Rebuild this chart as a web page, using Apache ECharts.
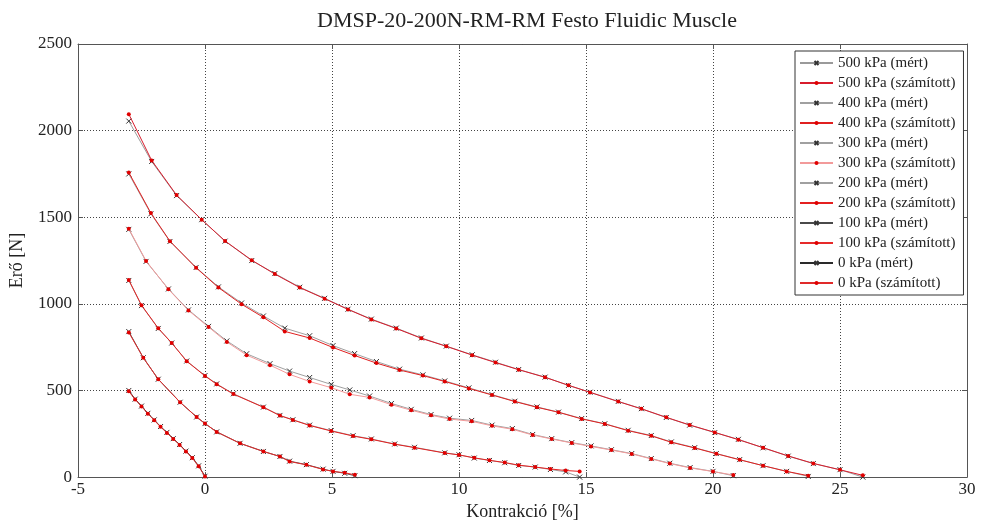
<!DOCTYPE html>
<html>
<head>
<meta charset="utf-8">
<script src="https://cdn.jsdelivr.net/npm/echarts@6/dist/echarts.min.js"></script>
<style>html,body{margin:0;padding:0;background:#fff}#c{width:983px;height:526px}</style>
</head>
<body>
<div id="c"></div>
<script>
// ---- data ----
const titleText = 'DMSP-20-200N-RM-RM Festo Fluidic Muscle';
const xTicks = [-5, 0, 5, 10, 15, 20, 25, 30];
const yTicks = [0, 500, 1000, 1500, 2000, 2500];

const x500 = [-3, -2.1, -1.12, -0.13, 0.79, 1.84, 2.75, 3.73, 4.71, 5.63, 6.55, 7.53, 8.52, 9.5, 10.52, 11.44, 12.35, 13.39, 14.31, 15.16, 16.27, 17.18, 18.16, 19.08, 20.07, 21, 21.97, 22.96, 23.95, 25, 25.9];
const f500m = [2055, 1822, 1625, 1486, 1362, 1250, 1175, 1096, 1032, 969, 912, 860, 803, 756, 706, 663, 621, 577, 529, 490, 437, 395, 344, 300, 257, 218, 169, 121, 78, 43, 0];
const f500c = [2095, 1828, 1628, 1486, 1363, 1252, 1172, 1094, 1030, 968, 910, 858, 801, 755, 704, 661, 620, 576, 530, 489, 436, 394, 345, 301, 258, 216, 170, 122, 79, 42, 10];

const x400 = [-3, -2.13, -1.38, -0.35, 0.53, 1.44, 2.3, 3.14, 4.12, 5.04, 5.89, 6.75, 7.66, 8.58, 9.44, 10.39, 11.3, 12.2, 13.07, 13.92, 14.83, 15.74, 16.66, 17.57, 18.36, 19.28, 20.13, 21.05, 21.97, 22.9, 23.75];
const f400m = [1750, 1520, 1360, 1210, 1098, 1005, 930, 860, 816, 759, 713, 667, 623, 590, 555, 515, 476, 438, 405, 375, 338, 308, 270, 240, 203, 170, 136, 101, 66, 33, 4];
const f400c = [1758, 1524, 1362, 1208, 1094, 998, 922, 841, 803, 748, 702, 658, 618, 586, 552, 512, 474, 436, 403, 374, 336, 307, 268, 238, 201, 168, 135, 100, 66, 33, 8];

const x300 = [-3, -2.32, -1.44, -0.65, 0.14, 0.86, 1.64, 2.56, 3.33, 4.12, 4.97, 5.7, 6.48, 7.34, 8.12, 8.9, 9.63, 10.5, 11.3, 12.1, 12.9, 13.65, 14.44, 15.2, 16.0, 16.8, 17.57, 18.3, 19.1, 20.0, 20.8];
const f300m = [1430, 1245, 1086, 965, 870, 786, 712, 655, 612, 575, 535, 503, 468, 425, 391, 361, 340, 327, 300, 280, 246, 222, 199, 180, 158, 136, 107, 80, 55, 33, 8];
const f300c = [1434, 1248, 1084, 962, 866, 780, 704, 646, 593, 552, 516, 478, 460, 418, 386, 357, 335, 322, 296, 276, 243, 220, 197, 177, 156, 134, 105, 78, 53, 32, 12];

const x200 = [-3, -2.5, -1.84, -1.31, -0.72, 0, 0.46, 1.12, 2.3, 2.95, 3.46, 4.12, 4.97, 5.83, 6.55, 7.47, 8.25, 9.44, 10.0, 10.6, 11.2, 11.8, 12.35, 13.0, 13.6, 14.2, 14.75];
const f200m = [1135, 990, 858, 774, 670, 586, 538, 481, 404, 356, 331, 300, 268, 239, 220, 191, 172, 140, 129, 110, 96, 83, 67, 58, 44, 30, 0];
const f200c = [1138, 992, 859, 774, 669, 584, 536, 479, 403, 355, 330, 298, 266, 237, 218, 190, 170, 139, 128, 111, 97, 84, 69, 58, 47, 38, 33];

const x100 = [-3, -2.43, -1.84, -0.98, -0.33, 0, 0.46, 1.38, 2.3, 2.95, 3.33, 3.99, 4.65, 5.04, 5.5, 5.9];
const f100m = [840, 689, 565, 432, 347, 309, 261, 195, 148, 119, 92, 72, 46, 33, 22, 8];
const f100c = [835, 689, 565, 432, 347, 309, 261, 195, 148, 119, 90, 71, 44, 33, 25, 13];

const x0 = [-3, -2.75, -2.5, -2.25, -2, -1.75, -1.5, -1.25, -1, -0.75, -0.5, -0.25, 0];
const f0m = [500, 450, 410, 368, 330, 292, 258, 222, 188, 150, 112, 65, 5];
const f0c = [495, 448, 408, 366, 328, 290, 255, 220, 186, 148, 110, 62, 3];

const seriesNames = ['500 kPa (mért)', '500 kPa (számított)', '400 kPa (mért)', '400 kPa (számított)', '300 kPa (mért)', '300 kPa (számított)', '200 kPa (mért)', '200 kPa (számított)', '100 kPa (mért)', '100 kPa (számított)', '0 kPa (mért)', '0 kPa (számított)'];
const seriesX = [x500, x500, x400, x400, x300, x300, x200, x200, x100, x100, x0, x0];
const seriesY = [f500m, f500c, f400m, f400c, f300m, f300c, f200m, f200c, f100m, f100c, f0m, f0c];

// ---- styling ----
const lineColors = ['#9a9a9a', '#d81c2c', '#a0a0a0', '#e02020', '#a0a0a0', '#f29a9a', '#a0a0a0', '#e42020', '#4a4a4a', '#e62a2a', '#2a2a2a', '#e02a2a'];
const FONT = '"Liberation Serif", "Times New Roman", serif';
const crossPath = 'path://M0,0L8,8M8,0L0,8';

const series = seriesNames.map((name, i) => {
  const measured = i % 2 === 0;
  return {
    name: name,
    type: 'line',
    xAxisIndex: 0,
    yAxisIndex: 0,
    data: seriesX[i].map((x, k) => [x, seriesY[i][k]]),
    showSymbol: true,
    showAllSymbol: true,
    symbol: measured ? crossPath : 'circle',
    symbolSize: measured ? 5 : 4,
    lineStyle: { color: lineColors[i], width: 1 },
    itemStyle: measured
      ? { color: 'transparent', borderColor: '#333', borderWidth: 1 }
      : { color: '#e00000', borderColor: '#e00000', borderWidth: 0 },
    emphasis: { disabled: true },
    z: measured ? 2 : 3
  };
});

const axisCommon = {
  type: 'value',
  axisLine: { show: true, onZero: false, lineStyle: { color: '#555', width: 1 } },
  axisTick: { show: true, inside: true, length: 5, lineStyle: { color: '#555' } }
};

const chart = echarts.init(document.getElementById('c'), null, { renderer: 'canvas' });
chart.setOption({
  animation: false,
  backgroundColor: '#fff',
  title: {
    text: titleText,
    left: 522, top: 5, textAlign: 'center',
    textStyle: { fontFamily: FONT, fontSize: 22, fontWeight: 'normal', color: '#222' }
  },
  grid: { left: 78, right: 16, top: 44, bottom: 44, show: false },
  legend: {
    orient: 'vertical',
    left: 795, top: 51,
    padding: [4, 8, 4, 4],
    itemGap: 4, itemWidth: 33, itemHeight: 5,
    backgroundColor: '#fff', borderColor: '#333', borderWidth: 1, borderRadius: 0,
    textStyle: { fontFamily: FONT, fontSize: 15, color: '#222', lineHeight: 16 },
    data: seriesNames
  },
  xAxis: [
    Object.assign({}, axisCommon, {
      min: xTicks[0], max: xTicks[xTicks.length - 1], interval: 5, position: 'bottom',
      axisLabel: { fontFamily: FONT, fontSize: 17, color: '#222', margin: 4 },
      splitLine: { show: true, lineStyle: { color: '#444', type: [1, 2], width: 1 } },
      name: 'Kontrakció [%]', nameLocation: 'middle', nameGap: 25,
      nameTextStyle: { fontFamily: FONT, fontSize: 18, color: '#222' }
    }),
    Object.assign({}, axisCommon, {
      min: xTicks[0], max: xTicks[xTicks.length - 1], interval: 5, position: 'top',
      axisLabel: { show: false }, splitLine: { show: false }
    })
  ],
  yAxis: [
    Object.assign({}, axisCommon, {
      min: yTicks[0], max: yTicks[yTicks.length - 1], interval: 500, position: 'left',
      axisLabel: { fontFamily: FONT, fontSize: 17, color: '#222', margin: 6, formatter: v => String(v) },
      splitLine: { show: true, lineStyle: { color: '#444', type: [1, 2], width: 1 } },
      name: 'Erő [N]', nameLocation: 'middle', nameGap: 52, nameRotate: 90,
      nameTextStyle: { fontFamily: FONT, fontSize: 18, color: '#222' }
    }),
    Object.assign({}, axisCommon, {
      min: yTicks[0], max: yTicks[yTicks.length - 1], interval: 500, position: 'right',
      axisLabel: { show: false }, splitLine: { show: false }
    })
  ],
  series: series
});
</script>
</body>
</html>
